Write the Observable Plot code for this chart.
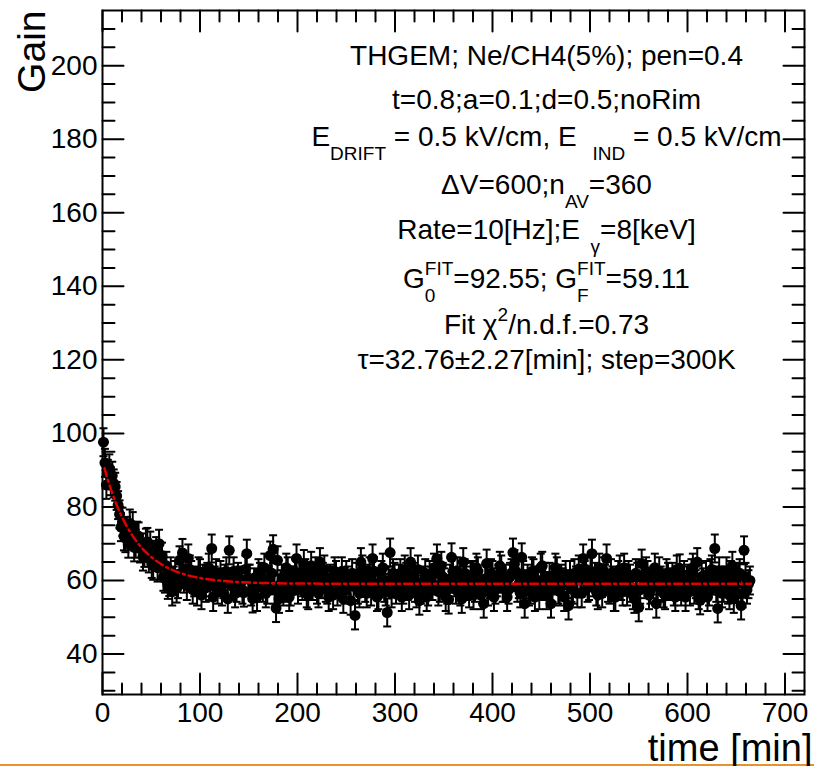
<!DOCTYPE html>
<html><head><meta charset="utf-8">
<script src="https://cdn.jsdelivr.net/npm/d3@7"></script>
<script src="https://cdn.jsdelivr.net/npm/@observablehq/plot@0.6"></script>
<style>
html,body{margin:0;padding:0;background:#fff;}
#chart svg{display:block;}
#edge{height:2px;background:#e8922e;width:814px;}
</style></head><body>
<div id="chart"></div><div id="edge"></div>
<script>
// ---- data (two interleaved sampling sets) ----
const timesA = [
  1,4,7,10,13,16,19,22,25,28,
  31,34,37,40,43,46,49,52,55,58,
  61,64,67,70,73,76,79,82,85,88,
  91,94,97,100,103,106,109,112,115,118,
  121,124,127,130,133,136,139,142,145,148,
  151,154,157,160,163,166,169,172,175,178,
  181,184,187,190,193,196,199,202,205,208,
  211,214,217,220,223,226,229,232,235,238,
  241,244,247,250,253,256,259,262,265,268,
  271,274,277,280,283,286,289,292,295,298,
  301,304,307,310,313,316,319,322,325,328,
  331,334,337,340,343,346,349,352,355,358,
  361,364,367,370,373,376,379,382,385,388,
  391,394,397,400,403,406,409,412,415,418,
  421,424,427,430,433,436,439,442,445,448,
  451,454,457,460,463,466,469,472,475,478,
  481,484,487,490,493,496,499,502,505,508,
  511,514,517,520,523,526,529,532,535,538,
  541,544,547,550,553,556,559,562,565,568,
  571,574,577,580,583,586,589,592,595,598,
  601,604,607,610,613,616,619,622,625,628,
  631,634,637,640,643,646,649,652,655,658,
  661,664
];
const gainsA = [
  97.6,86.0,90.5,88.5,85.5,80.5,74.5,72.0,73.5,75.5,
  74.8,70.0,72.0,69.0,67.5,70.5,69.5,64.0,68.0,70.0,
  66.5,60.5,58.8,62.5,60.0,57.8,65.5,67.5,63.0,66.0,
  61.5,59.5,57.0,62.0,60.5,58.0,63.5,68.7,60.0,57.5,
  61.5,59.0,62.5,68.2,58.5,56.5,61.0,59.5,56.7,67.3,
  60.5,55.1,58.0,62.0,60.0,63.5,57.5,66.8,68.5,52.5,
  55.0,60.5,58.0,62.5,57.0,60.0,66.0,61.5,58.5,62.0,
  56.0,64.0,60.5,57.5,65.0,61.0,58.0,55.5,60.0,62.5,
  57.0,59.5,55.0,61.5,58.5,62.0,50.5,57.5,65.0,60.0,
  56.5,62.5,66.0,59.0,56.0,61.5,58.0,51.3,67.6,62.0,
  57.5,60.5,55.5,63.0,58.5,65.0,61.0,56.5,54.5,59.5,
  62.0,57.0,60.0,63.5,66.0,58.0,61.0,55.5,54.8,66.3,
  59.5,62.5,57.0,65.0,60.0,56.5,61.5,58.0,62.5,56.0,
  53.7,64.6,59.0,61.5,57.5,60.5,63.0,58.0,55.5,61.0,
  67.6,62.5,59.0,66.3,53.7,60.5,57.5,62.0,59.5,56.0,
  64.0,61.0,58.5,53.7,60.0,62.5,57.0,59.5,61.5,53.2,
  58.0,62.0,56.5,60.5,66.0,63.0,58.5,67.3,61.0,56.0,
  59.5,62.5,66.0,57.5,60.0,55.5,61.5,58.5,63.5,57.0,
  60.5,56.0,62.0,52.7,64.6,59.0,61.5,57.5,60.0,53.7,
  62.5,58.0,56.0,61.0,59.5,57.0,63.0,63.3,58.5,55.5,
  60.5,62.0,57.5,65.0,54.6,59.5,61.5,57.0,63.0,68.7,
  52.4,60.0,58.0,62.5,56.0,64.0,59.5,61.0,53.2,68.2,
  57.5,60.0
];
const timesB = [
  2.5,5.5,8.5,11.5,14.5,17.5,20.5,23.5,26.5,29.5,
  32.5,35.5,38.5,41.5,44.5,47.5,50.5,53.5,56.5,59.5,
  62.5,65.5,68.5,71.5,74.5,77.5,80.5,83.5,86.5,89.5,
  92.5,95.5,98.5,101.5,104.5,107.5,110.5,113.5,116.5,119.5,
  122.5,125.5,128.5,131.5,134.5,137.5,140.5,143.5,146.5,149.5,
  152.5,155.5,158.5,161.5,164.5,167.5,170.5,173.5,176.5,179.5,
  182.5,185.5,188.5,191.5,194.5,197.5,200.5,203.5,206.5,209.5,
  212.5,215.5,218.5,221.5,224.5,227.5,230.5,233.5,236.5,239.5,
  242.5,245.5,248.5,251.5,254.5,257.5,260.5,263.5,266.5,269.5,
  272.5,275.5,278.5,281.5,284.5,287.5,290.5,293.5,296.5,299.5,
  302.5,305.5,308.5,311.5,314.5,317.5,320.5,323.5,326.5,329.5,
  332.5,335.5,338.5,341.5,344.5,347.5,350.5,353.5,356.5,359.5,
  362.5,365.5,368.5,371.5,374.5,377.5,380.5,383.5,386.5,389.5,
  392.5,395.5,398.5,401.5,404.5,407.5,410.5,413.5,416.5,419.5,
  422.5,425.5,428.5,431.5,434.5,437.5,440.5,443.5,446.5,449.5,
  452.5,455.5,458.5,461.5,464.5,467.5,470.5,473.5,476.5,479.5,
  482.5,485.5,488.5,491.5,494.5,497.5,500.5,503.5,506.5,509.5,
  512.5,515.5,518.5,521.5,524.5,527.5,530.5,533.5,536.5,539.5,
  542.5,545.5,548.5,551.5,554.5,557.5,560.5,563.5,566.5,569.5,
  572.5,575.5,578.5,581.5,584.5,587.5,590.5,593.5,596.5,599.5,
  602.5,605.5,608.5,611.5,614.5,617.5,620.5,623.5,626.5,629.5,
  632.5,635.5,638.5,641.5,644.5,647.5,650.5,653.5,656.5,659.5,
  662.5
];
const gainsB = [
  92.0,89.0,87.0,86.4,83.0,78.0,76.0,71.5,70.0,72.2,
  69.0,72.2,68.7,66.5,70.3,66.0,64.5,67.0,63.5,64.1,
  61.0,64.0,59.6,57.0,61.5,59.0,62.0,60.5,58.5,63.0,
  57.5,60.0,62.5,56.0,59.5,61.0,58.5,55.5,62.0,59.5,
  57.0,60.5,55.0,59.0,62.5,58.0,60.0,57.5,63.0,60.5,
  57.0,59.5,55.5,61.0,58.0,56.5,60.0,62.0,57.5,65.5,
  59.0,57.0,63.5,55.5,60.0,62.0,57.5,59.5,64.5,56.5,
  60.0,58.5,62.5,56.5,59.0,63.0,57.5,60.5,56.0,61.5,
  59.0,62.5,57.5,60.0,54.5,58.5,61.0,56.5,63.0,58.0,
  60.5,57.0,62.5,55.5,59.5,63.5,57.0,60.0,56.5,61.0,
  59.0,62.0,57.5,61.0,56.0,60.5,58.0,63.0,57.5,60.0,
  55.5,61.5,58.5,62.0,57.0,64.0,59.5,57.5,60.5,62.5,
  57.5,60.0,55.0,62.0,58.5,61.0,56.0,63.5,59.0,57.5,
  60.5,57.0,62.0,55.5,59.5,64.0,58.0,60.5,57.5,62.0,
  64.5,58.0,56.5,61.5,59.0,57.0,62.5,55.5,60.0,63.5,
  58.5,56.0,61.0,58.0,63.5,57.5,60.5,55.5,59.0,61.5,
  57.5,60.0,63.0,56.5,61.5,58.0,62.5,59.5,57.0,63.5,
  56.5,60.5,58.0,62.0,55.5,59.5,63.0,57.0,60.0,61.5,
  58.0,55.0,61.0,57.5,60.5,62.5,56.0,59.0,63.5,58.5,
  60.0,56.5,62.0,58.5,61.0,55.5,59.5,57.0,61.5,60.0,
  57.0,63.5,59.0,56.0,61.0,58.5,55.5,62.0,60.0,58.0,
  62.5,56.5,60.0,57.5,61.5,55.0,59.0,62.0,56.5,61.0,
  59.0
];
const gainError = 3.8;

// exponential fit curve (values at sample times)
const fitTimes = [2,5,10,15,20,25,30,35,40,45,50,55,60,70,80,90,100,120,140,160,180,200,250,300,400,500,600,665];
const fitGains = [90.57,87.80,83.75,80.26,77.27,74.70,72.49,70.60,68.97,67.58,66.38,65.35,64.47,63.06,62.02,61.25,60.69,59.97,59.58,59.36,59.25,59.18,59.13,59.11,59.11,59.11,59.11,59.11];

// axis ticks
const xMajorTicks = [0,100,200,300,400,500,600,700];
const xMinorTicks = [20,40,60,80,120,140,160,180,220,240,260,280,320,340,360,380,420,440,460,480,520,540,560,580,620,640,660,680];
const yMajorTicks = [40,60,80,100,120,140,160,180,200];
const yMinorTicks = [30,35,45,50,55,65,70,75,85,90,95,105,110,115,125,130,135,145,150,155,165,170,175,185,190,195,205,210];

// annotation text (ROOT-like markup: ^{sup}, _{sub})
const annotLines = [
  "THGEM; Ne/CH4(5%); pen=0.4",
  "t=0.8;a=0.1;d=0.5;noRim",
  "E_{DRIFT} = 0.5 kV/cm, E_{   IND} = 0.5 kV/cm",
  "ΔV=600;n_{AV}=360",
  "Rate=10[Hz];E_{  γ}=8[keV]",
  "G^{FIT}_{0}=92.55; G^{FIT}_{F}=59.11",
  "Fit χ^{2}/n.d.f.=0.73",
  "τ=32.76±2.27[min]; step=300K"
];
const xTitle = "time [min]";
const yTitle = "Gain";

// ---- layout / style ----
const annotBaselines = [64,108,145,193,238,287,333,368];
const FONT = "'Liberation Sans', Arial, Helvetica, sans-serif";

const measurements = timesA.map((t, i) => ({t, g: gainsA[i]}))
  .concat(timesB.map((t, i) => ({t, g: gainsB[i]})))
  .sort((a, b) => a.t - b.t);
const fit = fitTimes.map((t, i) => ({t, g: fitGains[i]}));

const tickShape = {draw(ctx, l) { ctx.moveTo(0, 0); ctx.lineTo(0, -l); }};
const capSymbol = {draw(ctx) { ctx.moveTo(-4, 0); ctx.lineTo(4, 0); }};

function ticks(data, chan, anchor, rotate, len) {
  return Plot.vector(data, {[chan]: d => d, frameAnchor: anchor, anchor: "start", rotate, length: len,
    shape: tickShape, stroke: "black", strokeWidth: 2});
}

const svg = Plot.plot({
  width: 814, height: 764,
  marginLeft: 102, marginRight: 10, marginTop: 10, marginBottom: 70,
  x: {domain: [0, 720]},
  y: {domain: [29, 215]},
  style: {fontFamily: FONT, background: "white", overflow: "visible", color: "black"},
  marks: [
    ticks(xMajorTicks, "x", "bottom", 0, 21),
    ticks(xMinorTicks, "x", "bottom", 0, 11),
    ticks(xMajorTicks, "x", "top", 180, 21),
    ticks(xMinorTicks, "x", "top", 180, 11),
    ticks(yMajorTicks, "y", "left", 90, 21),
    ticks(yMinorTicks, "y", "left", 90, 12),
    ticks(yMajorTicks, "y", "right", -90, 21),
    ticks(yMinorTicks, "y", "right", -90, 12),
    Plot.axisX(xMajorTicks, {tickSize: 0, tickPadding: 8, fontSize: 28, label: null}),
    Plot.axisY(yMajorTicks, {tickSize: 0, tickPadding: 5, fontSize: 28, label: null}),
    Plot.ruleX(measurements, {x: "t", y1: d => d.g - gainError, y2: d => d.g + gainError, stroke: "black", strokeWidth: 2}),
    Plot.dot(measurements, {x: "t", y: d => d.g + gainError, symbol: capSymbol, stroke: "black", fill: "none", strokeWidth: 2}),
    Plot.dot(measurements, {x: "t", y: d => d.g - gainError, symbol: capSymbol, stroke: "black", fill: "none", strokeWidth: 2}),
    Plot.dot(measurements, {x: "t", y: "g", r: 5.5, fill: "black", stroke: "none"}),
    Plot.line(fit, {x: "t", y: "g", stroke: "#e00000", strokeWidth: 2.5, strokeDasharray: "8,4,2,4", curve: "monotone-x"}),
    Plot.frame({stroke: "black", strokeWidth: 2}),
    ...annotLines.map((line, i) => Plot.text([line], {
      text: d => d, frameAnchor: "top", dx: 93, dy: annotBaselines[i] - 10,
      lineAnchor: "bottom", textAnchor: "middle", fontSize: 28, fill: "black"
    })),
    Plot.text([yTitle], {text: d => d, frameAnchor: "top-left", rotate: -90, textAnchor: "end",
      lineAnchor: "bottom", dx: -58, dy: 0, fontSize: 39, fill: "black"}),
    Plot.text([xTitle], {text: d => d, frameAnchor: "bottom-right", textAnchor: "end",
      lineAnchor: "bottom", dx: 8, dy: 66, fontSize: 38, fill: "black"})
  ]
});
document.getElementById("chart").append(svg);

// rich text: convert ^{..} and _{..} into tspans
const SUP = 13, SUB = 14, SCRIPT = 19;
const NS = "http://www.w3.org/2000/svg";
svg.querySelectorAll("text").forEach(t => {
  const src = t.textContent;
  if (!annotLines.includes(src)) return;
  const parts = src.split(/(\^\{[^}]*\}|_\{[^}]*\})/).filter(s => s.length);
  t.textContent = "";
  t.setAttributeNS("http://www.w3.org/XML/1998/namespace", "xml:space", "preserve");
  t.style.whiteSpace = "pre";
  let cur = 0, prev = null, pendingDx = 0;
  for (const p of parts) {
    let type = "norm", s = p;
    if (p.startsWith("^{")) { type = "sup"; s = p.slice(2, -1); }
    else if (p.startsWith("_{")) { type = "sub"; s = p.slice(2, -1); }
    const ts = document.createElementNS(NS, "tspan");
    ts.textContent = s;
    const target = type === "sup" ? -SUP : type === "sub" ? SUB : 0;
    if (target !== cur) ts.setAttribute("dy", target - cur);
    cur = target;
    if (type !== "norm") ts.setAttribute("font-size", SCRIPT);
    const stacked = prev && prev.type !== "norm" && type !== "norm" && prev.type !== type;
    let dx = pendingDx; pendingDx = 0;
    if (stacked) dx -= prev.w;
    if (dx) ts.setAttribute("dx", dx);
    t.appendChild(ts);
    const w = ts.getComputedTextLength();
    if (stacked && w < prev.w) pendingDx = prev.w - w;
    prev = {type, w: stacked ? Math.max(w, prev.w) : w};
  }
});
</script>
</body></html>
